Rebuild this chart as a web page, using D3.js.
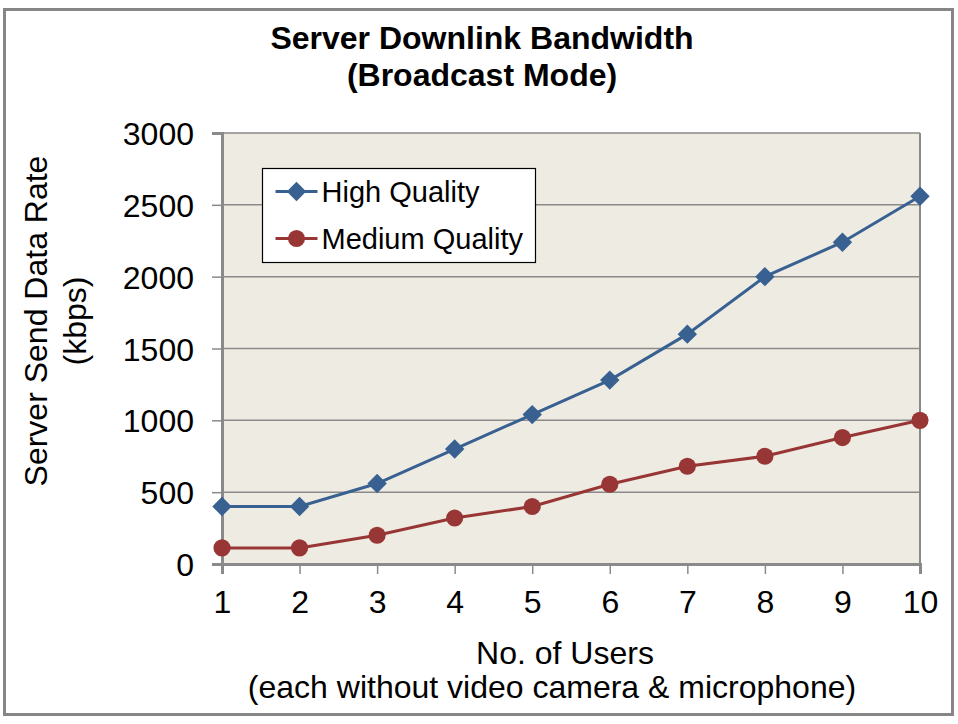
<!DOCTYPE html>
<html>
<head>
<meta charset="utf-8">
<script src="https://cdn.jsdelivr.net/npm/d3@7"></script>
<style>
  body { margin: 0; background: #fff; }
  text { font-family: "Liberation Sans", Arial, sans-serif; }
</style>
</head>
<body>
<div id="chart"></div>
<script>
// chart data
var users = [1, 2, 3, 4, 5, 6, 7, 8, 9, 10];
var highQuality = [400, 400, 560, 800, 1040, 1280, 1600, 2000, 2240, 2560];
var mediumQuality = [112, 112, 200, 320, 400, 555, 680, 750, 880, 1000];
var yTicks = [0, 500, 1000, 1500, 2000, 2500, 3000];

var W = 958, H = 724;
var margin = { left: 222, right: 38, top: 133, bottom: 160 };
var plotW = W - margin.left - margin.right,
    plotH = H - margin.top - margin.bottom;

var svg = d3.select("#chart")
  .append("svg")
    .attr("width", W)
    .attr("height", H);

// outer frame
svg.append("rect")
  .attr("x", 4.5).attr("y", 9.5)
  .attr("width", 948).attr("height", 705)
  .attr("fill", "#fff")
  .attr("stroke", "#868686")
  .attr("stroke-width", 3);

// title
var title = svg.append("text")
  .attr("text-anchor", "middle")
  .attr("font-weight", "bold")
  .attr("font-size", 32);
title.append("tspan").attr("x", 482).attr("y", 49).text("Server Downlink Bandwidth");
title.append("tspan").attr("x", 482).attr("y", 86).text("(Broadcast Mode)");

var x = d3.scaleLinear().domain([1, 10]).range([0, plotW]);
var y = d3.scaleLinear().domain([0, 3000]).range([plotH, 0]);

var g = svg.append("g")
  .attr("transform", "translate(" + margin.left + "," + margin.top + ")");

// plot background
g.append("rect")
  .attr("width", plotW)
  .attr("height", plotH)
  .attr("fill", "#eeebe2");

// gridlines
g.append("g").selectAll("line")
  .data(yTicks.filter(function(d) { return d > 0; }))
  .enter().append("line")
    .attr("x1", 0).attr("x2", plotW)
    .attr("y1", function(d) { return y(d); })
    .attr("y2", function(d) { return y(d); })
    .attr("stroke", "#8a8a8a")
    .attr("stroke-width", 1.5);

// right border of plot
g.append("line")
  .attr("x1", plotW).attr("x2", plotW)
  .attr("y1", 0).attr("y2", plotH)
  .attr("stroke", "#8a8a8a").attr("stroke-width", 2);

// axes
var yAxis = g.append("g")
  .call(d3.axisLeft(y).tickValues(yTicks).tickFormat(d3.format("d")).tickSize(10).tickPadding(18));
var xAxis = g.append("g")
  .attr("transform", "translate(0," + plotH + ")")
  .call(d3.axisBottom(x).tickValues(users).tickFormat(d3.format("d")).tickSize(10).tickPadding(16));

[yAxis, xAxis].forEach(function(a) {
  a.select(".domain").attr("stroke", "#8a8a8a").attr("stroke-width", 3);
  a.selectAll(".tick line").attr("stroke", "#8a8a8a").attr("stroke-width", 1.5);
  a.selectAll(".tick text")
    .attr("font-family", "Liberation Sans, Arial, sans-serif")
    .attr("font-size", 32)
    .attr("fill", "#000");
});
yAxis.selectAll(".tick text").attr("dy", "0.36em");

// y axis title
var yTitle = svg.append("text")
  .attr("text-anchor", "middle")
  .attr("font-size", 32)
  .attr("transform", "translate(47,321) rotate(-90)");
yTitle.append("tspan").attr("x", 0).attr("y", 0).text("Server Send Data Rate");
yTitle.append("tspan").attr("x", 0).attr("y", 39).text("(kbps)");

// x axis title
svg.append("text")
  .attr("text-anchor", "middle")
  .attr("font-size", 32)
  .attr("x", 565).attr("y", 664)
  .text("No. of Users");
svg.append("text")
  .attr("text-anchor", "middle")
  .attr("font-size", 32)
  .attr("x", 552).attr("y", 698)
  .text("(each without video camera & microphone)");

// series
var series = [
  { name: "High Quality", values: highQuality, color: "#386192", symbol: d3.symbolDiamond2 },
  { name: "Medium Quality", values: mediumQuality, color: "#973634", symbol: d3.symbolCircle }
];

var line = d3.line()
  .x(function(d, i) { return x(users[i]); })
  .y(function(d) { return y(d); });

series.forEach(function(s) {
  g.append("path")
    .datum(s.values)
    .attr("fill", "none")
    .attr("stroke", s.color)
    .attr("stroke-width", 3)
    .attr("d", line);

  g.append("g").selectAll("path")
    .data(s.values)
    .enter().append("path")
      .attr("transform", function(d, i) { return "translate(" + x(users[i]) + "," + y(d) + ")"; })
      .attr("d", d3.symbol().type(s.symbol).size(s.symbol === d3.symbolCircle ? 230 : 240))
      .attr("fill", s.color);
});

// legend
var legend = svg.append("g").attr("transform", "translate(262.5,168.5)");
legend.append("rect")
  .attr("width", 273).attr("height", 94)
  .attr("fill", "#fff")
  .attr("stroke", "#000")
  .attr("stroke-width", 1.2);

series.forEach(function(s, i) {
  var row = legend.append("g").attr("transform", "translate(0," + (23 + i * 47) + ")");
  row.append("line")
    .attr("x1", 13).attr("x2", 55)
    .attr("stroke", s.color).attr("stroke-width", 3);
  row.append("path")
    .attr("transform", "translate(34,0)")
    .attr("d", d3.symbol().type(s.symbol).size(s.symbol === d3.symbolCircle ? 230 : 240))
    .attr("fill", s.color);
  row.append("text")
    .attr("x", 59).attr("dy", "0.35em")
    .attr("font-size", 29)
    .text(s.name);
});
</script>
</body>
</html>
